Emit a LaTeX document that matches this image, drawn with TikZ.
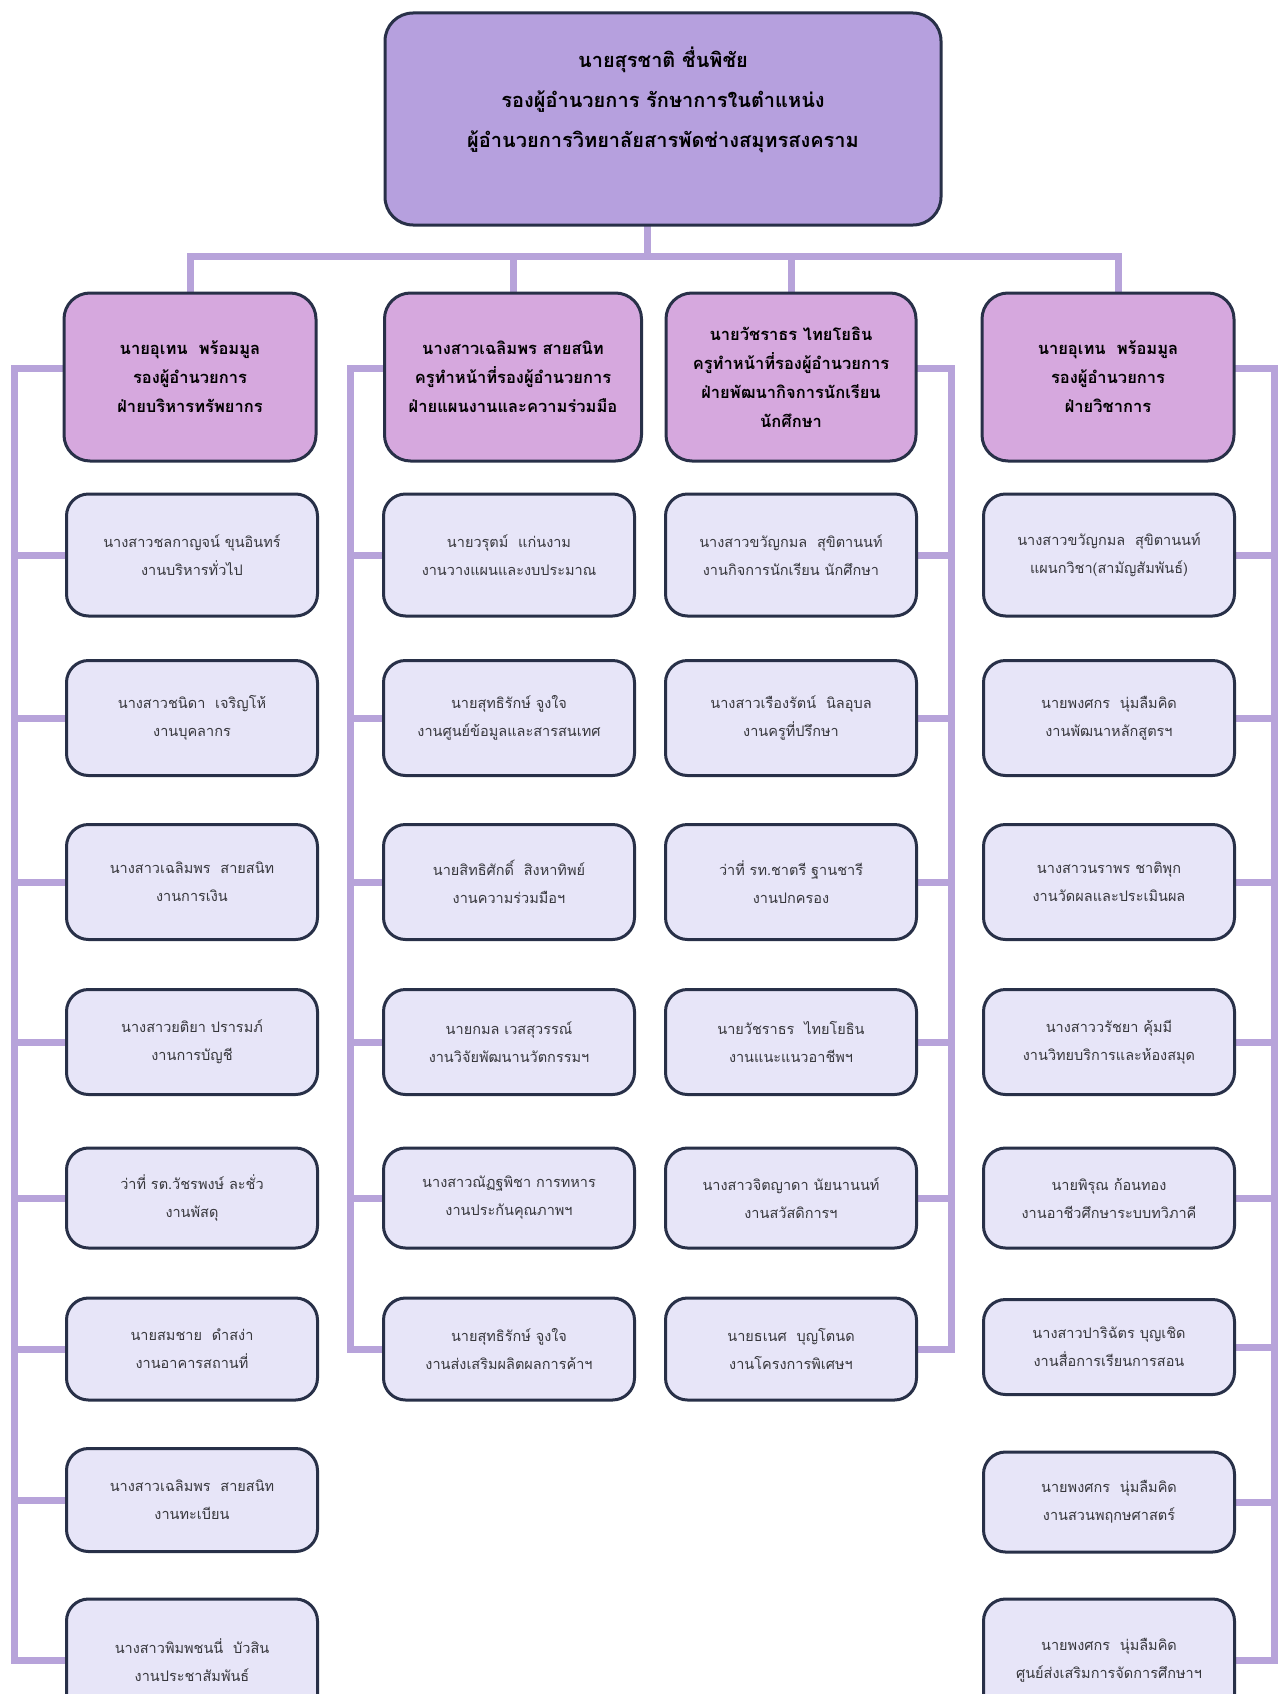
\documentclass[tikz,border=0pt]{standalone}
\usepackage{fontspec}
\setmainfont[Script=Thai]{Loma}
\usetikzlibrary{backgrounds}
\definecolor{topfill}{RGB}{182,160,222}
\definecolor{headfill}{RGB}{214,168,222}
\definecolor{childfill}{RGB}{231,229,248}
\definecolor{edgecol}{RGB}{40,48,72}
\definecolor{conncol}{RGB}{183,163,218}
\definecolor{txtcol}{RGB}{55,55,60}
\tikzset{
  topbox/.style={draw=edgecol, line width=3, fill=topfill, rounded corners=28, minimum width=556, minimum height=212, inner sep=0},
  toptext/.style={align=center, font=\fontsize{20}{40}\selectfont\bfseries, text=black, inner sep=0},
  headbox/.style={draw=edgecol, line width=3, fill=headfill, rounded corners=26, minimum width=252, minimum height=168, align=center, font=\fontsize{16.5}{29}\selectfont\bfseries, text=black, inner sep=2},
  childbox/.style={draw=edgecol, line width=3, fill=childfill, rounded corners=22, minimum width=251, align=center, font=\fontsize{14.5}{28}\selectfont, text=txtcol, inner sep=2},
  conn/.style={draw=conncol, line width=7, line join=miter, line cap=rect},
}
\begin{document}
\begin{tikzpicture}[x=1pt,y=-1pt]
\clip (0,0) rectangle (1278,1694);
% top
\node[topbox] (top) at (663,119) {};
\node[toptext] (toptxt) at (663,100) {นายสุรชาติ ชื่นพิชัย\\รองผู้อำนวยการ รักษาการในตำแหน่ง\\ผู้อำนวยการวิทยาลัยสารพัดช่างสมุทรสงคราม};
% headers
\node[headbox] (h1) at (190,377) {นายอุเทน~~พร้อมมูล\\รองผู้อำนวยการ\\ฝ่ายบริหารทรัพยากร};
\node[headbox, minimum width=257] (h2) at (513,377) {นางสาวเฉลิมพร สายสนิท\\ครูทำหน้าที่รองผู้อำนวยการ\\ฝ่ายแผนงานและความร่วมมือ};
\node[headbox, minimum width=250] (h3) at (791,377) {นายวัชราธร ไทยโยธิน\\ครูทำหน้าที่รองผู้อำนวยการ\\ฝ่ายพัฒนากิจการนักเรียน\\นักศึกษา};
\node[headbox, minimum width=252] (h4) at (1108,377) {นายอุเทน~~พร้อมมูล\\รองผู้อำนวยการ\\ฝ่ายวิชาการ};
% column 1
\node[childbox, minimum height=122] (c11) at (192,555) {นางสาวชลกาญจน์ ขุนอินทร์\\งานบริหารทั่วไป};
\node[childbox, minimum height=115] (c12) at (192,718) {นางสาวชนิดา~~เจริญโห้\\งานบุคลากร};
\node[childbox, minimum height=115] (c13) at (192,882) {นางสาวเฉลิมพร~~สายสนิท\\งานการเงิน};
\node[childbox, minimum height=105] (c14) at (192,1042) {นางสาวยติยา ปรารมภ์\\งานการบัญชี};
\node[childbox, minimum height=100] (c15) at (192,1198) {ว่าที่ รต.วัชรพงษ์ ละชั่ว\\งานพัสดุ};
\node[childbox, minimum height=102] (c16) at (192,1349) {นายสมชาย~~ดำสง่า\\งานอาคารสถานที่};
\node[childbox, minimum height=103] (c17) at (192,1500) {นางสาวเฉลิมพร~~สายสนิท\\งานทะเบียน};
\node[childbox, minimum height=122] (c18) at (192,1660) {นางสาวพิมพชนนี่~~บัวสิน\\งานประชาสัมพันธ์};
% column 2
\node[childbox, minimum height=122] (c21) at (509,555) {นายวรุตม์~~แก่นงาม\\งานวางแผนและงบประมาณ};
\node[childbox, minimum height=115] (c22) at (509,718) {นายสุทธิรักษ์ จูงใจ\\งานศูนย์ข้อมูลและสารสนเทศ};
\node[childbox, minimum height=115] (c23) at (509,882) {นายสิทธิศักดิ์~~สิงหาทิพย์\\งานความร่วมมือฯ};
\node[childbox, minimum height=105] (c24) at (509,1042) {นายกมล เวสสุวรรณ์\\งานวิจัยพัฒนานวัตกรรมฯ};
\node[childbox, minimum height=100] (c25) at (509,1198) {นางสาวณัฏฐพิชา การทหาร\\งานประกันคุณภาพฯ};
\node[childbox, minimum height=102] (c26) at (509,1349) {นายสุทธิรักษ์ จูงใจ\\งานส่งเสริมผลิตผลการค้าฯ};
% column 3
\node[childbox, minimum height=122] (c31) at (791,555) {นางสาวขวัญกมล~~สุขิตานนท์\\งานกิจการนักเรียน นักศึกษา};
\node[childbox, minimum height=115] (c32) at (791,718) {นางสาวเรืองรัตน์~~นิลอุบล\\งานครูที่ปรึกษา};
\node[childbox, minimum height=115] (c33) at (791,882) {ว่าที่ รท.ชาตรี ฐานชารี\\งานปกครอง};
\node[childbox, minimum height=105] (c34) at (791,1042) {นายวัชราธร~~ไทยโยธิน\\งานแนะแนวอาชีพฯ};
\node[childbox, minimum height=100] (c35) at (791,1198) {นางสาวจิตญาดา นัยนานนท์\\งานสวัสดิการฯ};
\node[childbox, minimum height=102] (c36) at (791,1349) {นายธเนศ~~บุญโตนด\\งานโครงการพิเศษฯ};
% column 4
\node[childbox, minimum height=122] (c41) at (1109,555) {นางสาวขวัญกมล~~สุขิตานนท์\\แผนกวิชา(สามัญสัมพันธ์)};
\node[childbox, minimum height=115] (c42) at (1109,718) {นายพงศกร~~นุ่มลืมคิด\\งานพัฒนาหลักสูตรฯ};
\node[childbox, minimum height=115] (c43) at (1109,882) {นางสาวนราพร ชาติพุก\\งานวัดผลและประเมินผล};
\node[childbox, minimum height=105] (c44) at (1109,1042) {นางสาววรัชยา คุ้มมี\\งานวิทยบริการและห้องสมุด};
\node[childbox, minimum height=100] (c45) at (1109,1198) {นายพิรุณ ก้อนทอง\\งานอาชีวศึกษาระบบทวิภาคี};
\node[childbox, minimum height=95] (c46) at (1109,1347) {นางสาวปาริฉัตร บุญเชิด\\งานสื่อการเรียนการสอน};
\node[childbox, minimum height=100] (c47) at (1109,1502) {นายพงศกร~~นุ่มลืมคิด\\งานสวนพฤกษศาสตร์};
\node[childbox, minimum height=122] (c48) at (1109,1660) {นายพงศกร~~นุ่มลืมคิด\\ศูนย์ส่งเสริมการจัดการศึกษาฯ};
% connectors
\coordinate (bus) at (647,256);
\coordinate (t1) at (14,368);
\coordinate (t2) at (350,368);
\coordinate (t3) at (951,368);
\coordinate (t4) at (1274,368);
\begin{scope}[on background layer]
\fill[white] (0,0) rectangle (1278,1694);
\draw[conn] (bus) -- (bus |- top.south);
\draw[conn] (h1.north |- bus) -- ([xshift=10]h4.north |- bus);
\draw[conn] (h1.north |- bus) -- (h1.north);
\draw[conn] (h2.north |- bus) -- (h2.north);
\draw[conn] (h3.north |- bus) -- (h3.north);
\draw[conn] ([xshift=10]h4.north |- bus) -- ([xshift=10]h4.north);
% col 1
\draw[conn] (h1.west |- t1) -- (t1) -- (t1 |- c18.west) -- (c18.west);
\foreach \n in {c11,c12,c13,c14,c15,c16,c17} \draw[conn] (t1 |- \n.west) -- (\n.west);
% col 2
\draw[conn] (h2.west |- t2) -- (t2) -- (t2 |- c26.west) -- (c26.west);
\foreach \n in {c21,c22,c23,c24,c25} \draw[conn] (t2 |- \n.west) -- (\n.west);
% col 3
\draw[conn] (h3.east |- t3) -- (t3) -- (t3 |- c36.east) -- (c36.east);
\foreach \n in {c31,c32,c33,c34,c35} \draw[conn] (t3 |- \n.east) -- (\n.east);
% col 4
\draw[conn] (h4.east |- t4) -- (t4) -- (t4 |- c48.east) -- (c48.east);
\foreach \n in {c41,c42,c43,c44,c45,c46,c47} \draw[conn] (t4 |- \n.east) -- (\n.east);
\end{scope}
\end{tikzpicture}
\end{document}
